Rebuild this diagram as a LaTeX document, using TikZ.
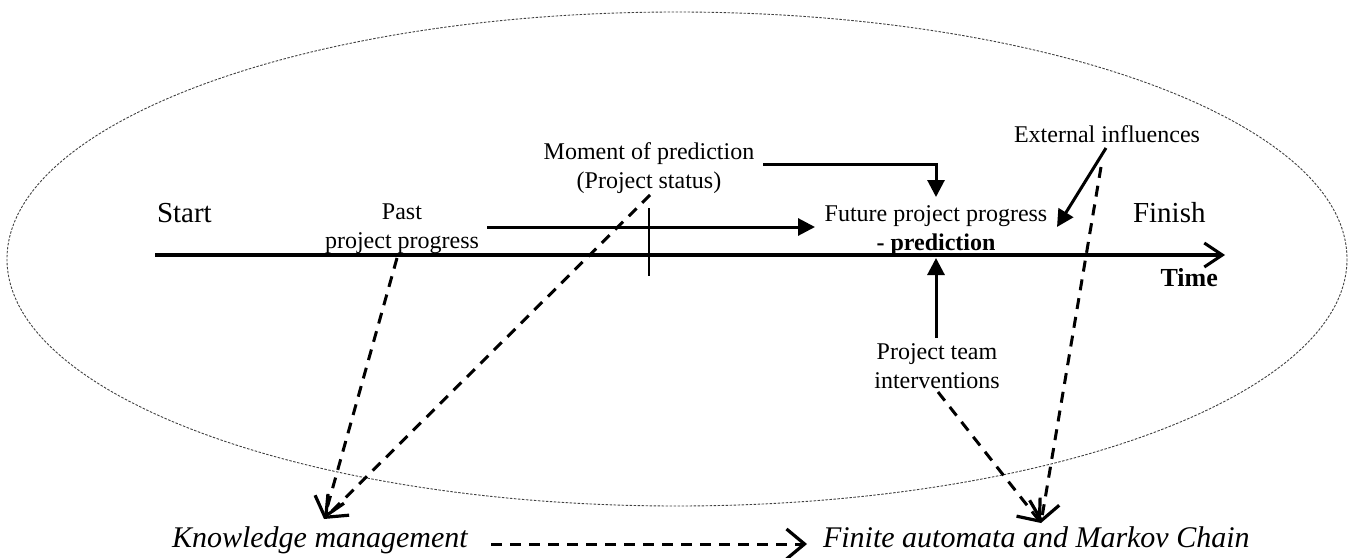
\documentclass[tikz,border=0pt]{standalone}
\usepackage{fontspec}
\setmainfont{Liberation Serif}
\usetikzlibrary{arrows.meta}
\tikzset{
  lbl/.style={inner sep=0pt, outer sep=0pt, font=\fontsize{24}{29}\selectfont, align=center, anchor=base},
  big/.style={inner sep=0pt, outer sep=0pt, font=\fontsize{29}{34}\selectfont, anchor=base west},
  ital/.style={inner sep=0pt, outer sep=0pt, font=\fontsize{30}{36}\selectfont\itshape, anchor=base west},
  solidarrow/.style={line width=3pt, -{Triangle[length=17pt,width=17pt]}},
  dasharrow/.style={line width=3pt, dash pattern=on 11pt off 8pt, -{Straight Barb[length=18pt,width=30pt,line width=3.2pt]}},
  axisline/.style={line width=3.5pt, -{Straight Barb[length=18pt,width=24pt,line width=3pt]}},
  outline/.style={line width=0.9pt, draw=black!75, dash pattern=on 2.5pt off 1.5pt}
}
\begin{document}
\begin{tikzpicture}[x=1pt,y=-1pt]
\useasboundingbox (0,0) rectangle (1352,557);
% enclosing dotted ellipse
\draw[outline] (677,259) ellipse [x radius=670, y radius=247];

% texts (anchor base = baseline of the last line)
\node[big] (start) at (157,222) {Start};
\node[big] (finish) at (1133,222) {Finish};
\node[inner sep=0pt, font=\fontsize{26}{30}\selectfont\bfseries, anchor=base east] (time) at (1218,286) {Time};
\node[lbl] (past) at (402,248) {Past\\project progress};
\node[lbl] (moment) at (649,188) {Moment of prediction\\(Project status)};
\node[lbl] (future) at (936,250) {Future project progress\\\textbf{- prediction}};
\node[lbl] (ext) at (1107,142) {External influences};
\node[lbl] (team) at (937,388) {Project team\\interventions};
\node[ital] (km) at (172,547) {Knowledge management};
\node[ital] (fa) at (823,547) {Finite automata and Markov Chain};

% time axis and moment tick
\coordinate (ax0) at (155,255);
\coordinate (ax1) at (1225,255);
\draw[axisline] (ax0) -- (ax1);
\coordinate (tk0) at (649,208);
\coordinate (tk1) at (649,276);
\draw[line width=2pt] (tk0) -- (tk1);

% solid connectors to the prediction
\coordinate (p0) at (487,227);
\coordinate (p1) at (815,227);
\draw[solidarrow] (p0) -- (p1);
\coordinate (m0) at (763,164);
\coordinate (m1) at (936,197);
\draw[solidarrow] (m0) -| (m1);
\coordinate (e0) at (1106,148);
\coordinate (e1) at (1057,227);
\draw[solidarrow] (e0) -- (e1);
\coordinate (t0) at (936,338);
\coordinate (t1) at (936,258);
\draw[solidarrow] (t0) -- (t1);

% dashed connectors
\coordinate (kmtip) at (324,519);
\coordinate (fatip) at (1041,523);
\coordinate (d1) at (397,258);
\coordinate (d2) at (650,195);
\coordinate (d3) at (938,392);
\coordinate (d4) at (1101,167);
\draw[dasharrow] (d1) -- (kmtip);
\draw[dasharrow] (d2) -- (kmtip);
\draw[dasharrow] (d3) -- (fatip);
\draw[dasharrow] (d4) -- (fatip);
\coordinate (b0) at (491,544);
\coordinate (b1) at (807,544);
\draw[dasharrow] (b0) -- (b1);
\end{tikzpicture}
\end{document}
